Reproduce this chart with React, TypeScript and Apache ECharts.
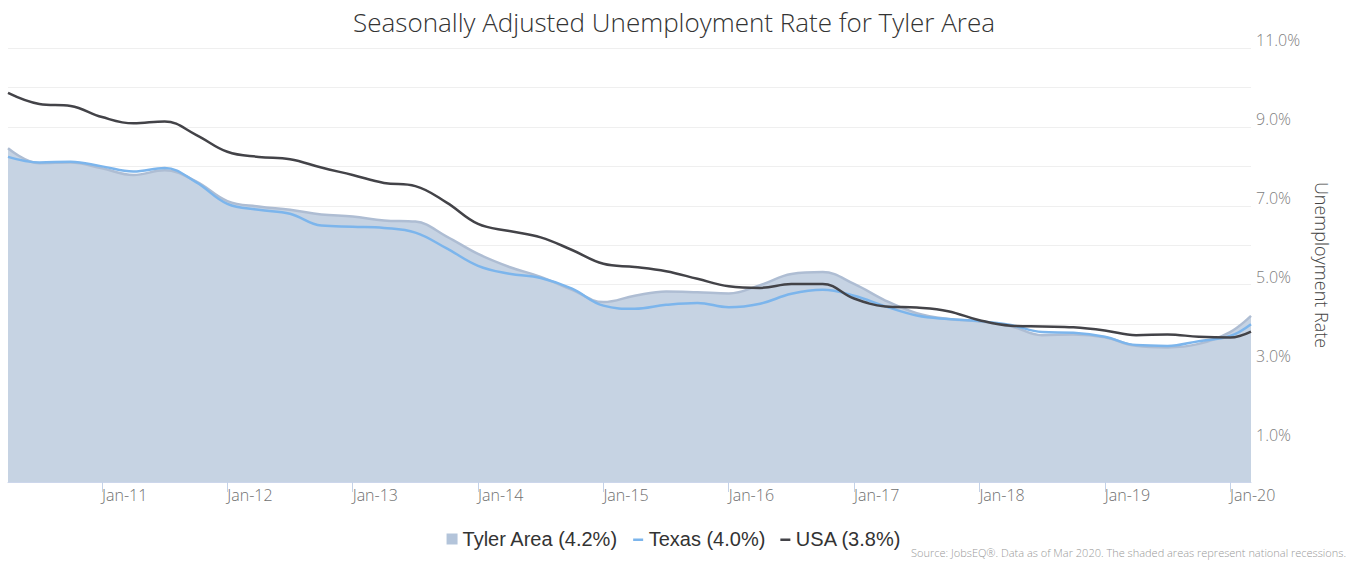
import React, { useEffect, useRef } from "react";
import * as echarts from "echarts";

const months = [
  "2010-04", "2010-07", "2010-10",
  "2011-01", "2011-04", "2011-07", "2011-10",
  "2012-01", "2012-04", "2012-07", "2012-10",
  "2013-01", "2013-04", "2013-07", "2013-10",
  "2014-01", "2014-04", "2014-07", "2014-10",
  "2015-01", "2015-04", "2015-07", "2015-10",
  "2016-01", "2016-04", "2016-07", "2016-10",
  "2017-01", "2017-04", "2017-07", "2017-10",
  "2018-01", "2018-04", "2018-07", "2018-10",
  "2019-01", "2019-04", "2019-07", "2019-10",
  "2020-01", "2020-03",
];

const tylerValues = [
  8.46, 8.08, 8.10,
  7.95, 7.78, 7.90, 7.62,
  7.12, 6.98, 6.90, 6.78,
  6.73, 6.63, 6.60, 6.22,
  5.78, 5.45, 5.20, 4.87,
  4.56, 4.72, 4.83, 4.81,
  4.78, 4.99, 5.27, 5.32,
  5.02, 4.60, 4.28, 4.13,
  4.07, 3.95, 3.72, 3.74,
  3.67, 3.45, 3.41, 3.50,
  3.80, 4.21,
];

const texasValues = [
  8.24, 8.10, 8.12,
  8.00, 7.87, 7.96, 7.60,
  7.05, 6.90, 6.80, 6.50,
  6.47, 6.44, 6.32, 5.92,
  5.48, 5.28, 5.17, 4.90,
  4.47, 4.39, 4.49, 4.54,
  4.43, 4.52, 4.77, 4.87,
  4.72, 4.45, 4.22, 4.13,
  4.08, 3.98, 3.80, 3.78,
  3.68, 3.47, 3.45, 3.57,
  3.70, 4.00,
];

const usaValues = [
  9.86, 9.58, 9.53,
  9.25, 9.09, 9.14, 8.80,
  8.37, 8.24, 8.18, 7.97,
  7.78, 7.58, 7.50, 7.08,
  6.54, 6.36, 6.20, 5.88,
  5.53, 5.45, 5.34, 5.15,
  4.96, 4.92, 5.02, 5.02,
  4.65, 4.45, 4.42, 4.33,
  4.10, 3.96, 3.94, 3.92,
  3.84, 3.72, 3.74, 3.68,
  3.66, 3.81,
];

const tickMonths = ["2011-01", "2012-01", "2013-01", "2014-01", "2015-01", "2016-01", "2017-01", "2018-01", "2019-01", "2020-01"];
const tickLabels = ["Jan-11", "Jan-12", "Jan-13", "Jan-14", "Jan-15", "Jan-16", "Jan-17", "Jan-18", "Jan-19", "Jan-20"];

const yLabelValues = [1, 3, 5, 7, 9, 11];

const seriesNames = ["Tyler Area (4.2%)", "Texas (4.0%)", "USA (3.8%)"];

// month index counted from Jan 2010
const toIndex = (s: string) => {
  const [y, m] = s.split("-").map(Number);
  return (y - 2010) * 12 + (m - 1);
};

const build = (vals: number[]) => months.map((m, i) => [toIndex(m), vals[i]]);

export default function App() {
  const ref = useRef<HTMLDivElement>(null);
  useEffect(() => {
    if (!ref.current) return;
    const chart = echarts.init(ref.current, undefined, { renderer: "svg" });
    const tickIdx = tickMonths.map(toIndex);
    const sans = "'Liberation Sans', Arial, sans-serif";
    chart.setOption({
      animation: false,
      backgroundColor: "#ffffff",
      title: {
        text: "Seasonally Adjusted Unemployment Rate for Tyler Area",
        left: "center",
        top: 4,
        textStyle: {
          fontFamily: "'Open Sans', sans-serif",
          fontWeight: 300,
          fontSize: 26,
          color: "#333333",
        },
      },
      grid: { left: 8, right: 97, top: 48, bottom: 80, containLabel: false },
      legend: {
        left: "center",
        top: 524,
        itemGap: 15,
        itemWidth: 11,
        itemHeight: 11,
        textStyle: { fontFamily: sans, fontSize: 20, color: "#333333" },
        data: [
          { name: seriesNames[0], icon: "path://M0,1H10V11H0Z", itemStyle: { color: "#b3c4da" } },
          { name: seriesNames[1], icon: "path://M0,0h0.01v0.01h-0.01zM0,10.99h0.01v0.01h-0.01zM0,5H10V7.5H0Z", itemStyle: { color: "#7cb5ec" } },
          { name: seriesNames[2], icon: "path://M0,0h0.01v0.01h-0.01zM0,10.99h0.01v0.01h-0.01zM0,5H10V7.5H0Z", itemStyle: { color: "#434348" } },
        ],
      },
      xAxis: {
        type: "value",
        min: toIndex(months[0]),
        max: toIndex(months[months.length - 1]),
        axisLine: { show: true, lineStyle: { color: "#ccd6eb", width: 1 } },
        axisTick: {
          show: true,
          length: 10,
          lineStyle: { color: "#c4d2e8", width: 1 },
          customValues: tickIdx,
        },
        axisLabel: {
          customValues: tickIdx,
          align: "left",
          margin: 5,
          color: "#707070",
          fontFamily: "'Open Sans', sans-serif",
          fontWeight: 300,
          fontSize: 16,
          formatter: (v: number) => {
            const idx = tickIdx.indexOf(v);
            return idx >= 0 ? tickLabels[idx] : "";
          },
        },
        splitLine: { show: false },
      },
      yAxis: {
        type: "value",
        position: "right",
        min: 0,
        max: 11,
        interval: 1,
        name: "Unemployment Rate",
        nameLocation: "middle",
        nameRotate: -90,
        nameGap: 62,
        nameTextStyle: { fontFamily: "'Open Sans', sans-serif", fontWeight: 300, fontSize: 18, color: "#444444" },
        axisLine: { show: false },
        axisTick: { show: false },
        axisLabel: {
          margin: 5,
          verticalAlign: "bottom",
          color: "#808080",
          fontFamily: "'Open Sans', sans-serif",
          fontWeight: 300,
          fontSize: 16,
          formatter: (v: number) => (yLabelValues.indexOf(v) >= 0 ? v.toFixed(1) + "%" : ""),
        },
        splitLine: { show: true, lineStyle: { color: "#efefef", width: 1 } },
      },
      series: [
        {
          name: seriesNames[0],
          type: "line",
          smooth: 0.4,
          showSymbol: false,
          symbol: "none",
          data: build(tylerValues),
          lineStyle: { color: "#aebdd3", width: 2.5 },
          itemStyle: { color: "#b3c4da" },
          areaStyle: { color: "#c6d3e3", opacity: 1 },
          z: 1,
        },
        {
          name: seriesNames[1],
          type: "line",
          smooth: 0.4,
          showSymbol: false,
          symbol: "none",
          data: build(texasValues),
          lineStyle: { color: "#7cb5ec", width: 2.5 },
          itemStyle: { color: "#7cb5ec" },
          z: 2,
        },
        {
          name: seriesNames[2],
          type: "line",
          smooth: 0.4,
          showSymbol: false,
          symbol: "none",
          data: build(usaValues),
          lineStyle: { color: "#434348", width: 2.5 },
          itemStyle: { color: "#434348" },
          z: 3,
        },
      ],
      graphic: [
        {
          type: "text",
          right: 2,
          top: 547,
          style: {
            text: "Source: JobsEQ®. Data as of Mar 2020. The shaded areas represent national recessions.",
            fill: "#999999",
            fontFamily: "'Open Sans', sans-serif",
            fontWeight: 300,
            fontSize: 11,
          },
        },
      ],
    });
    return () => chart.dispose();
  }, []);
  return (
    <div
      ref={ref}
      style={{ position: "fixed", left: 0, top: 0, width: 1348, height: 562 }}
    />
  );
}
